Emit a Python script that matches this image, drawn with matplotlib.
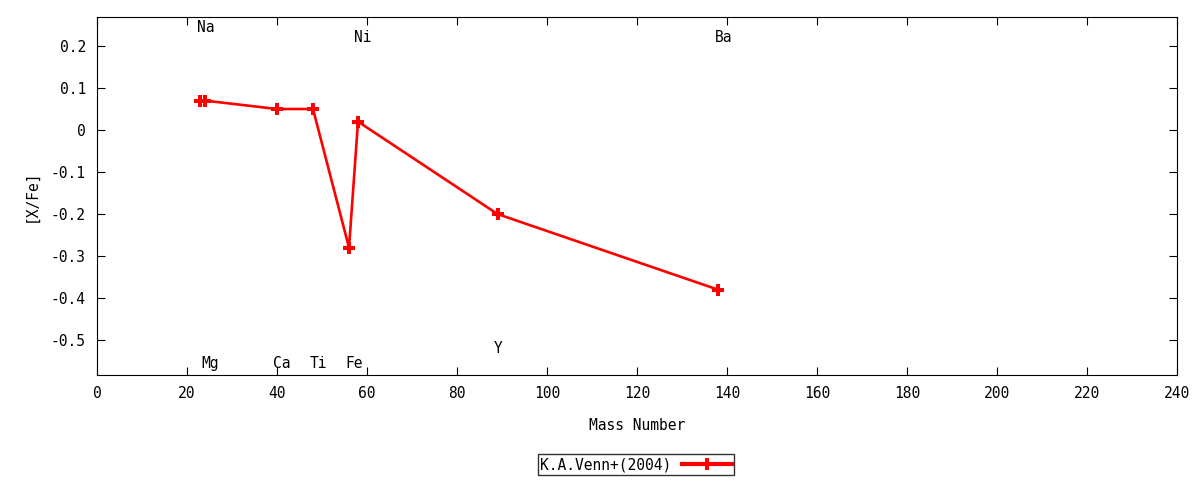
import matplotlib
matplotlib.use("Agg")
import matplotlib.pyplot as plt
from matplotlib.ticker import MultipleLocator, FuncFormatter

# abundance data (K.A.Venn+ 2004)
elements = ["Na", "Mg", "Ca", "Ti", "Fe", "Ni", "Y", "Ba"]
mass_number = [23, 24, 40, 48, 56, 58, 89, 138]
x_fe = [0.07, 0.07, 0.05, 0.05, -0.28, 0.02, -0.20, -0.38]

# y position of each element label
label_y = [0.245, -0.555, -0.555, -0.555, -0.555, 0.221, -0.521, 0.221]

plt.rcParams['font.family'] = ['DejaVu Sans Mono']
plt.rcParams['axes.unicode_minus'] = False

fig = plt.figure(figsize=(12, 4.8), dpi=100)
ax = fig.add_axes([0.0808, 0.2188, 0.9002, 0.7458])

ax.plot(mass_number, x_fe, color="red", linewidth=1.9,
        marker="P", markersize=8, markeredgewidth=0, label="K.A.Venn+(2004)")

for name, a, y in zip(elements, mass_number, label_y):
    ax.text(a - 0.8, y, name, ha="left", va="center", fontsize=10.5)

ax.set_xlim(0, 240)
ax.set_ylim(-0.583, 0.269)
ax.xaxis.set_major_locator(MultipleLocator(20))
ax.yaxis.set_major_locator(MultipleLocator(0.1))
ax.yaxis.set_major_formatter(FuncFormatter(lambda v, p: "%g" % round(v, 2)))
ax.tick_params(direction="in", top=True, right=True, length=6,
               labelsize=10.5, pad=8)

ax.set_xlabel("Mass Number", fontsize=10.5, labelpad=12)
ax.set_ylabel("[X/Fe]", fontsize=10.5, labelpad=9)

leg = ax.legend(loc="center", bbox_to_anchor=(0.53, 0.032),
                bbox_transform=fig.transFigure, markerfirst=False,
                fontsize=10.5, frameon=True, fancybox=False,
                handlelength=3.4, borderpad=0.2, handletextpad=0.7,
                borderaxespad=0)
leg.get_frame().set_edgecolor("black")
leg.get_frame().set_linewidth(1.0)
for h in leg.legend_handles:
    h.set_linewidth(3)

fig.savefig("out.png", dpi=100)
